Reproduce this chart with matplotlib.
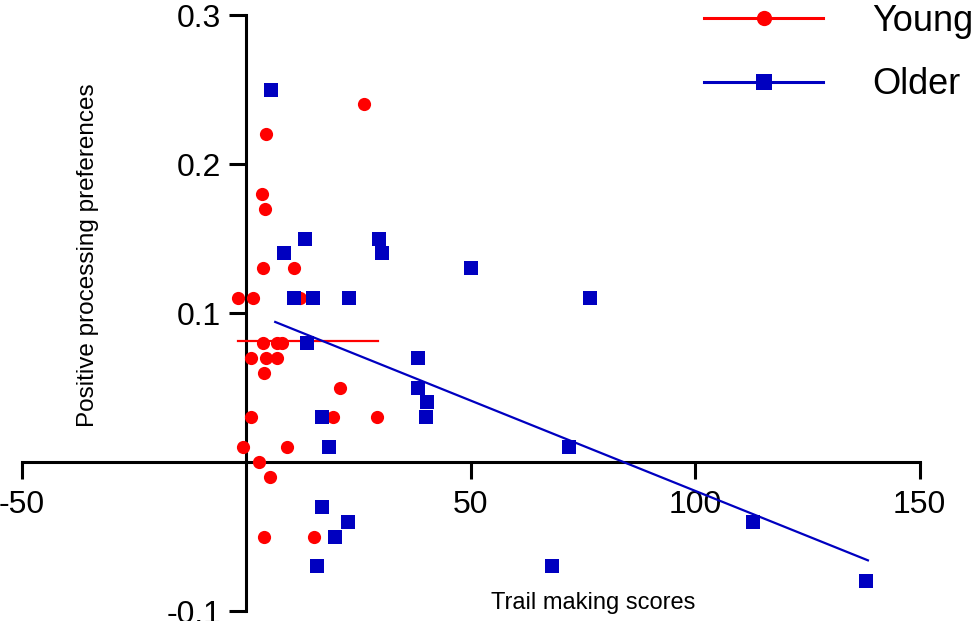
import numpy as np
import matplotlib
matplotlib.use("Agg")
import matplotlib.pyplot as plt

plt.rcParams["font.family"] = ["Liberation Sans", "DejaVu Sans"]

# young group (red circles)
young_x = [26.3, 4.5, 3.6, 4.2, 3.8, 10.7, -1.8, 1.6, 12.0,
           3.8, 6.9, 8.0, 1.1, 4.5, 6.9, 4.0, 20.9,
           1.1, 19.4, 29.2, -0.7, 9.1, 2.9, 5.3, 4.0, 15.1]
young_y = [0.24, 0.22, 0.18, 0.17, 0.13, 0.13, 0.11, 0.11, 0.11,
           0.08, 0.08, 0.08, 0.07, 0.07, 0.07, 0.06, 0.05,
           0.03, 0.03, 0.03, 0.01, 0.01, 0.00, -0.01, -0.05, -0.05]

# older group (blue squares)
older_x = [5.6, 13.1, 29.6, 8.5, 30.3, 10.7, 14.9, 22.9, 50.2, 76.6,
           38.3, 38.3, 40.2, 40.1, 71.9, 112.9, 138.1, 68.2, 13.6,
           16.9, 18.5, 16.9, 22.7, 19.8, 15.8]
older_y = [0.25, 0.15, 0.15, 0.14, 0.14, 0.11, 0.11, 0.11, 0.13, 0.11,
           0.07, 0.05, 0.04, 0.03, 0.01, -0.04, -0.08, -0.07, 0.08,
           0.03, 0.01, -0.03, -0.04, -0.05, -0.07]

# fitted lines (end points)
young_fit_x = [-1.9, 29.3]
young_fit_y = [0.081, 0.081]
older_fit_x = [6.5, 138.5]
older_fit_y = [0.094, -0.066]

xticks = [-50, 50, 100, 150]
xtick_labels = ["-50", "50", "100", "150"]
yticks = [-0.1, 0.1, 0.2, 0.3]
ytick_labels = ["-0.1", "0.1", "0.2", "0.3"]

red = "#ff0000"
blue = "#0000c0"

fig = plt.figure(figsize=(9.74, 6.21), dpi=100)
ax = fig.add_axes([0.0221, 0.0161, 0.9220, 0.9597])

ax.plot(young_x, young_y, "o", color=red, markersize=9.5, markeredgewidth=0, zorder=3)
ax.plot(young_fit_x, young_fit_y, "-", color=red, lw=1.6, zorder=3)
ax.plot(older_x, older_y, "s", color=blue, markersize=9.5, markeredgewidth=0, zorder=4)
ax.plot(older_fit_x, older_fit_y, "-", color=blue, lw=1.6, zorder=4)

# legend handles
h_young, = ax.plot([], [], "-o", color=red, lw=2.2, markersize=11, markeredgewidth=0)
h_older, = ax.plot([], [], "-s", color=blue, lw=2.2, markersize=11, markeredgewidth=0)
fig.legend([h_young, h_older], ["Young", "Older"], loc="center left",
           bbox_to_anchor=(704 / 974, 1 - 53 / 621), frameon=False,
           fontsize=26, handlelength=3.3, handletextpad=1.35,
           labelspacing=0.8, borderpad=0, borderaxespad=0)

ax.set_xlim(-50, 150)
ax.set_ylim(-0.1, 0.3)
ax.spines["left"].set_position(("data", 0))
ax.spines["bottom"].set_position(("data", 0))
ax.spines["top"].set_visible(False)
ax.spines["right"].set_visible(False)
for s in ("left", "bottom"):
    ax.spines[s].set_linewidth(2.2)
    ax.spines[s].set_zorder(2)

ax.set_xticks(xticks)
ax.set_xticklabels(xtick_labels)
ax.set_yticks(yticks)
ax.set_yticklabels(ytick_labels)
ax.tick_params(axis="both", direction="out", length=12, width=2.2, labelsize=23)
ax.tick_params(axis="x", pad=8)
ax.tick_params(axis="y", pad=6)

fig.text(593 / 974, 1 - 603 / 621, "Trail making scores", fontsize=17,
         ha="center", va="center")
fig.text(88 / 974, 1 - 255 / 621, "Positive processing preferences", fontsize=17.5,
         ha="center", va="center", rotation=90)

fig.savefig("out.png", dpi=100)
